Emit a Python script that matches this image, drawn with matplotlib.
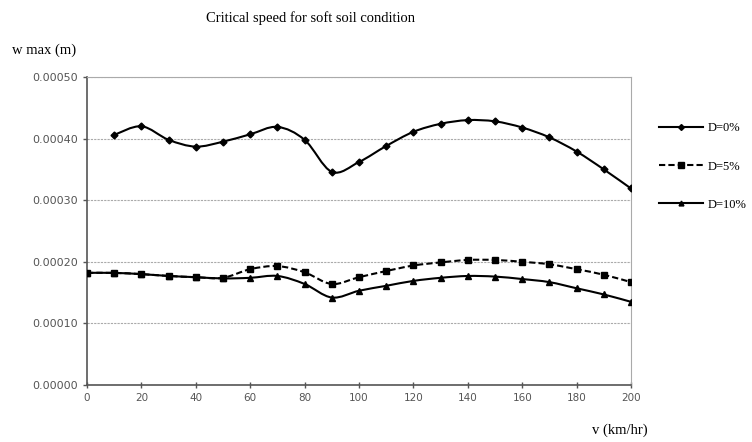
import numpy as np
import matplotlib
matplotlib.use('Agg')
from matplotlib import pyplot as plt
from matplotlib.path import Path
from matplotlib.patches import PathPatch
from matplotlib.lines import Line2D

# speeds (km/hr)
v0 = [10, 20, 30, 40, 50, 60, 70, 80, 90, 100, 110, 120, 130, 140, 150, 160, 170, 180, 190, 200]
v = [0, 10, 20, 30, 40, 50, 60, 70, 80, 90, 100, 110, 120, 130, 140, 150, 160, 170, 180, 190, 200]

# w max (m)
w_d0 = [0.000406, 0.000420, 0.000398, 0.000387, 0.000395, 0.000407, 0.000419, 0.000398,
        0.000346, 0.000362, 0.000388, 0.000411, 0.000424, 0.000430, 0.000428, 0.000418,
        0.000402, 0.000379, 0.000350, 0.000319]
w_d5 = [0.000182, 0.000182, 0.000180, 0.000177, 0.000175, 0.000174, 0.000188, 0.000193,
        0.000183, 0.000164, 0.000175, 0.000185, 0.000194, 0.000199, 0.000203, 0.000203,
        0.000200, 0.000196, 0.000188, 0.000179, 0.000167]
w_d10 = [0.000182, 0.000182, 0.000180, 0.000177, 0.000175, 0.000173, 0.000174, 0.000177,
         0.000164, 0.000142, 0.000153, 0.000161, 0.000169, 0.000174, 0.000177, 0.000176,
         0.000172, 0.000167, 0.000157, 0.000147, 0.000135]

labels = ['D=0%', 'D=5%', 'D=10%']


def smooth_path(xs, ys):
    # excel-like smoothed line: bezier segments through every point
    p = np.column_stack([xs, ys]).astype(float)
    n = len(p)
    verts = [p[0]]
    codes = [Path.MOVETO]
    for i in range(n - 1):
        p0 = p[i - 1] if i > 0 else p[i]
        p3 = p[i + 2] if i + 2 < n else p[i + 1]
        c1 = p[i] + (p[i + 1] - p0) / 6.0
        c2 = p[i + 1] - (p3 - p[i]) / 6.0
        verts += [c1, c2, p[i + 1]]
        codes += [Path.CURVE4] * 3
    return Path(verts, codes)


fig = plt.figure(figsize=(7.52, 4.42), dpi=100)
ax = fig.add_axes([87 / 752, 1 - 385 / 442, 544 / 752, 308 / 442])

series = [(v0, w_d0, '-', 'D', 3.5), (v, w_d5, (0, (3, 1.5)), 's', 4.5), (v, w_d10, '-', '^', 5)]
for (xs, ys, ls, mk, ms) in series:
    ax.add_patch(PathPatch(smooth_path(xs, ys), facecolor='none', edgecolor='black',
                           linewidth=1.5, linestyle=ls, zorder=3))
    ax.plot(xs, ys, linestyle='none', marker=mk, markersize=ms, color='black', zorder=4)

ax.set_xlim(0, 200)
ax.set_ylim(0, 0.0005)
ax.set_xticks(np.arange(0, 201, 20))
ax.set_yticks(np.arange(0, 0.00051, 0.0001))
ax.yaxis.set_major_formatter(matplotlib.ticker.FuncFormatter(lambda y, p: '%.5f' % y))
ax.tick_params(axis='both', colors='#555555', length=3, width=1)
ax.tick_params(axis='y', labelsize=8)
ax.tick_params(axis='x', direction='inout', length=5, labelsize=7.5)
for t in ax.get_xticklabels() + ax.get_yticklabels():
    t.set_fontfamily('DejaVu Sans')
ax.grid(axis='y', color='#aaaaaa', linestyle=(0, (2, 1)), linewidth=0.8)
ax.set_axisbelow(True)
ax.spines['left'].set_color('#555555')
ax.spines['bottom'].set_color('#555555')
ax.spines['left'].set_linewidth(1.2)
ax.spines['bottom'].set_linewidth(1.2)
ax.spines['top'].set_color('#aaaaaa')
ax.spines['right'].set_color('#aaaaaa')

fig.text(310 / 752, 1 - 18 / 442, 'Critical speed for soft soil condition', ha='center', va='center',
         family='Liberation Serif', fontsize=10.5)
fig.text(12 / 752, 1 - 50 / 442, 'w max (m)', ha='left', va='center',
         family='Liberation Serif', fontsize=10.5)
fig.text(620 / 752, 1 - 430 / 442, 'v (km/hr)', ha='center', va='center',
         family='Liberation Serif', fontsize=10.5)

handles = [Line2D([], [], color='black', linestyle='-', marker='D', markersize=3, linewidth=1.5),
           Line2D([], [], color='black', linestyle=(0, (3, 1.5)), marker='s', markersize=4, linewidth=1.5),
           Line2D([], [], color='black', linestyle='-', marker='^', markersize=3.5, linewidth=1.5)]
leg = fig.legend(handles, labels, loc='upper left', bbox_to_anchor=(648 / 752, 1 - 111 / 442),
                 frameon=False, handlelength=3.5, labelspacing=2.1, handletextpad=0.4,
                 prop={'family': 'Liberation Serif', 'size': 9})

plt.savefig('out.png', dpi=100)
